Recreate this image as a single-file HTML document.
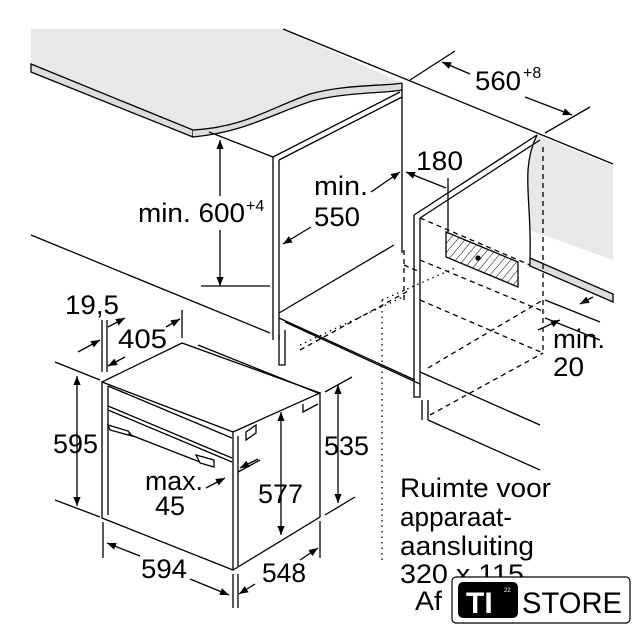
<!DOCTYPE html>
<html><head><meta charset="utf-8"><style>
html,body{margin:0;padding:0;background:#fff;overflow:hidden}
svg{display:block}
text{font-family:"Liberation Sans",sans-serif;fill:#000}
</style></head><body>
<svg width="640" height="640" viewBox="0 0 640 640" xmlns="http://www.w3.org/2000/svg">
<defs>
<pattern id="h" width="6" height="6" patternUnits="userSpaceOnUse" patternTransform="rotate(40)"><line x1="0" y1="0" x2="0" y2="6" stroke="#000" stroke-width="1"/></pattern>
<marker id="a" viewBox="0 0 10 10" refX="10" refY="5" markerWidth="7" markerHeight="7" orient="auto-start-reverse"><path d="M0,1 L10,5 L0,9 z" fill="#000"/></marker>
</defs>
<g stroke="#000" stroke-width="1.3" fill="none">
<!-- countertop -->
<path d="M31,29 L283,29 L402,83 C385,88 340,86 310,96 C270,112 245,132 193,130 L31,64 Z" fill="#e8e8e8" stroke="none"/>
<path d="M31,64 L193,130 L193,137 L31,72 Z" fill="#ddd"/>
<path d="M193,130 C245,127 270,108 310,94 C345,84 390,86 402,83 L402,90 C390,93 345,92 312,101 C272,114 245,132 193,137 Z" fill="#ddd" stroke="none"/>
<path d="M193,130 C245,127 270,108 310,94 C345,84 390,86 402,83" />
<path d="M193,137 C245,132 272,114 312,101 C345,92 390,93 402,90"/>
<line x1="283" y1="29" x2="613" y2="164"/>
<!-- wall right gray -->
<path d="M537,135 L613,166 L613,260 L530,230 C530,200 520,170 537,135 Z" fill="#e8e8e8" stroke="none"/>
<path d="M537,135 C520,170 532,200 530,258"/>
<path d="M530,258 L530,266 L613,302 L613,294 Z" fill="#ddd"/>
<!-- 560 dim -->
<line x1="410" y1="80" x2="455" y2="51"/>
<line x1="545" y1="133" x2="590" y2="107"/>
<line x1="442" y1="62" x2="470" y2="74" marker-start="url(#a)"/>
<line x1="525" y1="97" x2="572" y2="115" marker-end="url(#a)"/>
<!-- left cabinet -->
<line x1="209" y1="132" x2="273" y2="157"/>
<path d="M273,157 L273,340 M279,160 L279,340 M273,157 L400,92 M279,160 L402,97"/>
<line x1="402" y1="83" x2="402" y2="253"/>
<path d="M279,313 L394,245"/>
<line x1="31" y1="235" x2="270" y2="333"/>
<line x1="279" y1="318" x2="415" y2="380"/>
<line x1="285" y1="322" x2="420" y2="384"/>
<path d="M279,335 L279,365 L285,365 L285,330"/>
<!-- 600 dim -->
<line x1="201" y1="286" x2="270" y2="286"/>
<line x1="220" y1="140" x2="220" y2="196" marker-start="url(#a)"/>
<line x1="220" y1="230" x2="220" y2="286" marker-end="url(#a)"/>
<!-- min 550 arrows -->
<line x1="371" y1="192" x2="400" y2="172" marker-end="url(#a)"/>
<line x1="311" y1="227" x2="283" y2="244" marker-end="url(#a)"/>
<!-- 180 -->
<line x1="406" y1="172" x2="446" y2="188" marker-start="url(#a)"/>
<line x1="448" y1="178" x2="448" y2="232"/>
<!-- right cabinet -->
<path d="M414,215 L414,397 L420,397 L420,218 M414,215 L537,135 M420,218 L540,140"/>
<path d="M422,400 L422,420 M428,400 L428,420 M428,420 L540,470"/>
<path d="M420,372 L540,425"/>
<path d="M446,232 L518,262 L518,287 L446,257 Z" fill="url(#h)"/>
<circle cx="478" cy="258" r="2" fill="#000"/>
<g stroke-dasharray="5,4">
<line x1="543" y1="147" x2="543" y2="353"/>
<line x1="404" y1="250" x2="404" y2="300"/>
<line x1="420" y1="218" x2="530" y2="265"/>
<line x1="420" y1="260" x2="545" y2="312"/>
<line x1="420" y1="300" x2="543" y2="353"/>
<line x1="428" y1="368" x2="543" y2="300"/>
<line x1="430" y1="415" x2="543" y2="353"/>
<line x1="300" y1="350" x2="410" y2="290"/>
<line x1="404" y1="265" x2="420" y2="272"/>
</g>
<g stroke-dasharray="1.5,4">
<line x1="382" y1="300" x2="382" y2="563"/>
<line x1="382" y1="300" x2="455" y2="268"/>
<line x1="300" y1="345" x2="405" y2="296"/>
</g>
<!-- min 20 -->
<line x1="545" y1="300" x2="600" y2="322"/>
<line x1="545" y1="318" x2="600" y2="340"/>
<line x1="593" y1="297" x2="580" y2="304" marker-end="url(#a)"/>
<line x1="538" y1="330" x2="560" y2="320" marker-end="url(#a)"/>
<!-- oven -->
<path d="M102,382 L102,518 L233,570 L233,432 Z"/>
<path d="M102,382 L182,343 L320,393 L233,432"/>
<path d="M320,393 L320,517 L233,570"/>
<path d="M108,386 L232,438"/>
<path d="M108,406 L232,458 M108,410 L232,462"/>
<path d="M108,386 L108,515"/>
<path d="M108,425 L128,431 L132,436 L110,430 Z M196,455 L214,460 L214,467 L200,463 Z"/>
<line x1="128" y1="434" x2="200" y2="462"/>
<path d="M198,345 L318,393"/>
<path d="M238,436 L238,566"/>
<path d="M246,432 L256,425 L256,433 L246,440 Z"/>
<path d="M303,404 L303,412 L318,404"/>
<!-- oven dims -->
<line x1="55" y1="362" x2="100" y2="380"/>
<line x1="55" y1="500" x2="100" y2="517"/>
<line x1="77" y1="376" x2="77" y2="506" marker-start="url(#a)" marker-end="url(#a)"/>
<line x1="325" y1="392" x2="352" y2="377"/>
<line x1="325" y1="515" x2="355" y2="497"/>
<line x1="338" y1="385" x2="338" y2="503" marker-start="url(#a)" marker-end="url(#a)"/>
<line x1="281" y1="412" x2="281" y2="535" marker-start="url(#a)" marker-end="url(#a)"/>
<line x1="103" y1="522" x2="103" y2="558"/>
<line x1="233" y1="574" x2="233" y2="608"/>
<line x1="238" y1="574" x2="238" y2="608"/>
<line x1="320" y1="521" x2="320" y2="558"/>
<line x1="107" y1="543" x2="140" y2="556" marker-start="url(#a)"/>
<line x1="190" y1="579" x2="229" y2="595" marker-end="url(#a)"/>
<line x1="255" y1="584" x2="239" y2="594" marker-end="url(#a)"/>
<line x1="300" y1="560" x2="318" y2="548" marker-end="url(#a)"/>
<line x1="102" y1="320" x2="102" y2="372"/>
<line x1="107" y1="320" x2="107" y2="372"/>
<line x1="182" y1="310" x2="182" y2="338"/>
<line x1="78" y1="352" x2="100" y2="340" marker-end="url(#a)"/>
<line x1="125" y1="318" x2="108" y2="327" marker-start="url(#a)"/>
<line x1="108" y1="366" x2="125" y2="357" marker-start="url(#a)"/>
<line x1="166" y1="327" x2="180" y2="319" marker-end="url(#a)"/>
<line x1="238" y1="472" x2="260" y2="460"/>
<line x1="240" y1="468" x2="258" y2="459" marker-start="url(#a)"/>
<line x1="206" y1="488" x2="225" y2="478" marker-end="url(#a)"/>
</g>
<g font-size="27">
<text x="475" y="90" textLength="46" lengthAdjust="spacingAndGlyphs">560</text><text x="523" y="78" font-size="16">+8</text>
<text x="138" y="222" textLength="107" lengthAdjust="spacingAndGlyphs">min. 600</text><text x="246" y="211" font-size="16">+4</text>
<text x="314" y="195" textLength="54" lengthAdjust="spacingAndGlyphs">min.</text><text x="314" y="226" textLength="46" lengthAdjust="spacingAndGlyphs">550</text>
<text x="416" y="170" textLength="47" lengthAdjust="spacingAndGlyphs">180</text>
<text x="553" y="348" textLength="52" lengthAdjust="spacingAndGlyphs">min.</text><text x="553" y="376" textLength="31" lengthAdjust="spacingAndGlyphs">20</text>
<text x="65" y="314" textLength="54" lengthAdjust="spacingAndGlyphs">19,5</text>
<text x="118" y="348" textLength="49" lengthAdjust="spacingAndGlyphs">405</text>
<text x="53" y="453" textLength="45" lengthAdjust="spacingAndGlyphs">595</text>
<text x="324" y="455" textLength="45" lengthAdjust="spacingAndGlyphs">535</text>
<text x="258" y="503" textLength="45" lengthAdjust="spacingAndGlyphs">577</text>
<text x="145" y="490" textLength="58" lengthAdjust="spacingAndGlyphs">max.</text><text x="155" y="515" textLength="30" lengthAdjust="spacingAndGlyphs">45</text>
<text x="141" y="578" textLength="46" lengthAdjust="spacingAndGlyphs">594</text>
<text x="262" y="582" textLength="44" lengthAdjust="spacingAndGlyphs">548</text>
<text x="400" y="497" textLength="151" lengthAdjust="spacingAndGlyphs">Ruimte voor</text>
<text x="400" y="526" textLength="112" lengthAdjust="spacingAndGlyphs">apparaat-</text>
<text x="400" y="555" textLength="134" lengthAdjust="spacingAndGlyphs">aansluiting</text>
<text x="400" y="583" textLength="124" lengthAdjust="spacingAndGlyphs">320 x 115</text>
<text x="415" y="610" textLength="27" lengthAdjust="spacingAndGlyphs">Af</text>
</g>
<!-- logo -->
<rect x="452" y="577" width="178" height="46" rx="4" fill="#fff" stroke="#000" stroke-width="1.2"/>
<rect x="458" y="582" width="60" height="36" rx="5" fill="#000"/>
<text x="466" y="613" font-size="30" font-weight="bold" style="fill:#fff">TI</text>
<text x="504" y="592" font-size="6" style="fill:#fff">22</text>
<text x="522" y="613" font-size="30" textLength="100" lengthAdjust="spacingAndGlyphs">STORE</text>
</svg>
</body></html>
